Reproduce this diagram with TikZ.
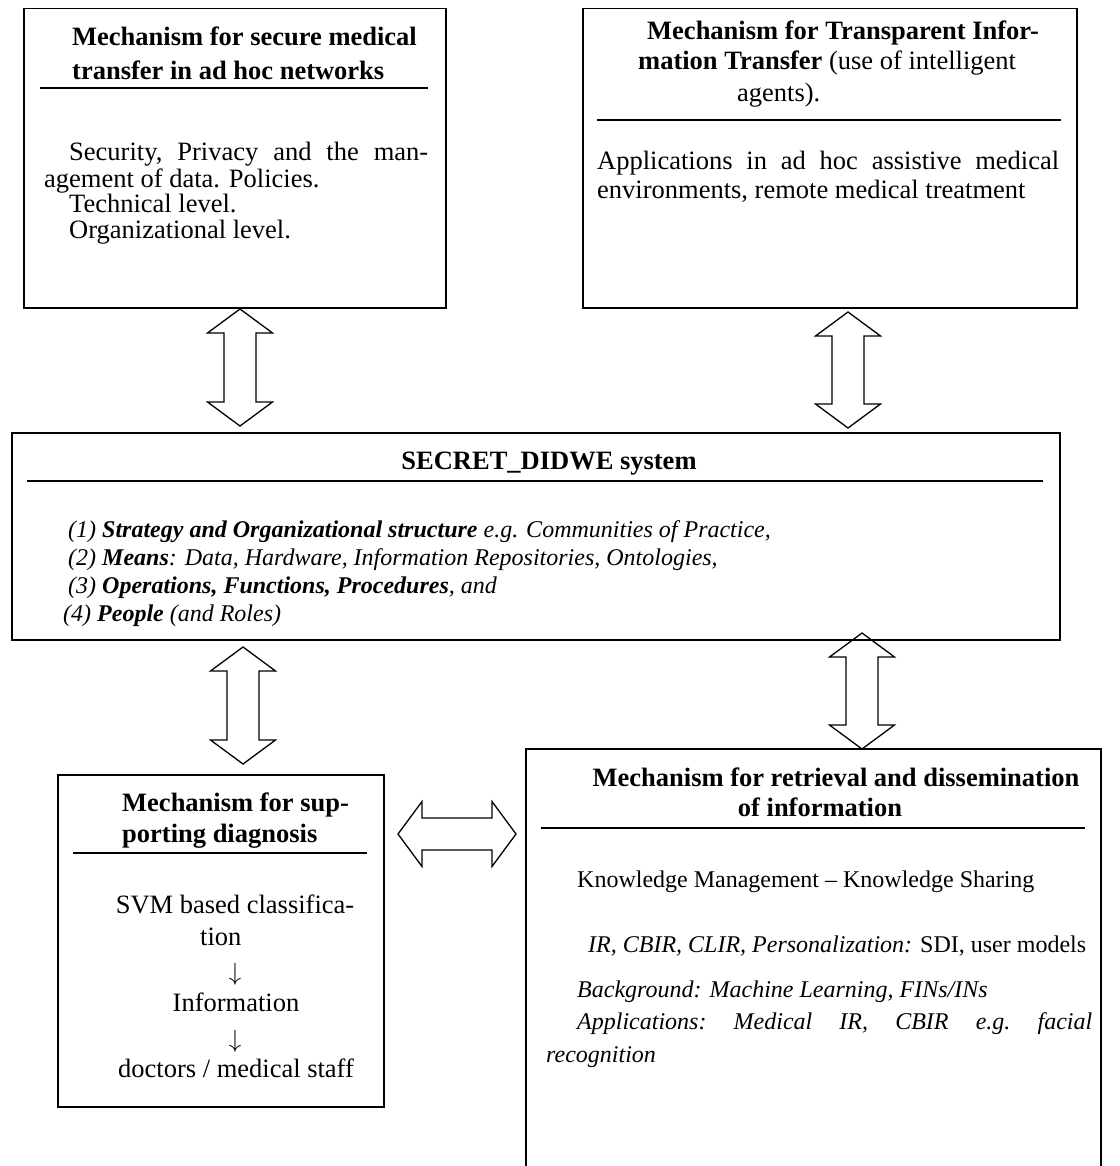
\documentclass[tikz,border=0pt]{standalone}
\usepackage{fontspec}
\setmainfont{Liberation Serif}
\usetikzlibrary{calc}
\newcommand{\vdbl}[2]{%
  \draw[dblarr] let \p1=(#1), \p2=(#2) in
   (\x1,\y1) -- (\x1+32.5pt,\y1-24pt) -- (\x1+16pt,\y1-24pt) -- (\x1+16pt,\y2+24pt)
   -- (\x1+32.5pt,\y2+24pt) -- (\x1,\y2) -- (\x1-32.5pt,\y2+24pt) -- (\x1-16pt,\y2+24pt)
   -- (\x1-16pt,\y1-24pt) -- (\x1-32.5pt,\y1-24pt) -- cycle;}
\newcommand{\hdbl}[2]{%
  \draw[dblarr] let \p1=(#1), \p2=(#2) in
   (\x1,\y1) -- (\x1+24pt,\y1+32.5pt) -- (\x1+24pt,\y1+16pt) -- (\x2-24pt,\y1+16pt)
   -- (\x2-24pt,\y1+32.5pt) -- (\x2,\y1) -- (\x2-24pt,\y1-32.5pt) -- (\x2-24pt,\y1-16pt)
   -- (\x1+24pt,\y1-16pt) -- (\x1+24pt,\y1-32.5pt) -- cycle;}
\begin{document}
\begin{tikzpicture}[x=1pt,y=-1pt,
  box/.style={draw, line width=1.5pt, rectangle, inner sep=0pt, anchor=north west},
  hrule/.style={line width=2pt},
  dblarr/.style={draw, line width=1.3pt, line join=miter},
  ttl/.style={font=\fontsize{26.5}{31}\selectfont\bfseries, inner sep=0pt, anchor=base west},
  tl/.style={font=\fontsize{26.5}{31}\selectfont, inner sep=0pt, anchor=base west},
  sl/.style={font=\fontsize{24}{28}\selectfont, inner sep=0pt, anchor=base west}]
\useasboundingbox (0,0) rectangle (1119,1166);
% boxes
\node[box, minimum width=422pt, minimum height=299pt] (b1) at (23,8) {};
\node[box, minimum width=494pt, minimum height=299pt] (b2) at (582,8) {};
\node[box, minimum width=1048pt, minimum height=207pt] (sec) at (11,432) {};
\node[box, minimum width=326pt, minimum height=332pt] (b3) at (57,774) {};
\node[box, minimum width=575pt, minimum height=440pt] (b4) at (525,748) {};
% rules
\draw[hrule] (40,88) -- (428,88);
\draw[hrule] (597,120) -- (1061,120);
\draw[hrule] (27,481) -- (1043,481);
\draw[hrule] (73,853) -- (367,853);
\draw[hrule] (541,828) -- (1085,828);
% box 1
\node[ttl] (b1t1) at (72,46) {Mechanism for secure medical};
\node[ttl] (b1t2) at (72,80) {transfer in ad hoc networks};
\node[tl] (b1l1) at (69,161) {\hbox to 359pt{Security,\hfill Privacy\hfill and\hfill the\hfill man-}};
\node[tl] (b1l2) at (44,188) {agement of data. Policies.};
\node[tl] (b1l3) at (69,213) {Technical level.};
\node[tl] (b1l4) at (69,239) {Organizational level.};
% box 2
\node[ttl] (b2t1) at (647,40) {Mechanism for Transparent Infor-};
\node[ttl] (b2t2) at (638,70) {mation Transfer \mdseries(use of intelligent};
\node[tl] (b2t3) at (737,102) {agents).};
\node[tl] (b2l1) at (597,170) {\hbox to 462pt{Applications\hfill in\hfill ad\hfill hoc\hfill assistive\hfill medical}};
\node[tl] (b2l2) at (597,199) {environments, remote medical treatment};
% system box
\node[ttl, anchor=base] (sect) at (549,469) {SECRET\_DIDWE system};
\node[sl] (s1) at (68,537) {\itshape (1) \textbf{Strategy and Organizational structure} e.g. Communities of Practice,};
\node[sl] (s2) at (68,565) {\itshape (2) \textbf{Means}: Data, Hardware, Information Repositories, Ontologies,};
\node[sl] (s3) at (68,593) {\itshape (3) \textbf{Operations, Functions, Procedures}, and};
\node[sl] (s4) at (63,621) {\itshape (4) \textbf{People} (and Roles)};
% box 3
\node[ttl] (b3t1) at (122,811) {Mechanism for sup-};
\node[ttl] (b3t2) at (122,842) {porting diagnosis};
\node[tl, anchor=base] (b3l1) at (235,913) {SVM based classifica-};
\node[tl] (b3l2) at (200,945) {tion};
\node[tl, anchor=center] (b3a1) at (235,974) {$\downarrow$};
\node[tl, anchor=base] (b3l3) at (236,1011) {Information};
\node[tl, anchor=center] (b3a2) at (235,1041) {$\downarrow$};
\node[tl, anchor=base] (b3l4) at (236,1077) {doctors / medical staff};
% box 4
\node[ttl, anchor=base] (b4t1) at (836,786) {Mechanism for retrieval and dissemination};
\node[ttl, anchor=base] (b4t2) at (820,816) {of information};
\node[sl] (b4l1) at (577,887) {Knowledge Management – Knowledge Sharing};
\node[sl] (b4l2) at (588,952) {\textit{IR, CBIR, CLIR, Personalization:} SDI, user models};
\node[sl] (b4l3) at (577,997) {\itshape Background: Machine Learning, FINs/INs};
\node[sl] (b4l4) at (577,1029) {\itshape\hbox to 515pt{Applications:\hfill Medical\hfill IR,\hfill CBIR\hfill e.g.\hfill facial}};
\node[sl] (b4l5) at (546,1062) {\itshape recognition};
% double arrows
\coordinate (a1t) at (240,309); \coordinate (a1b) at (240,426);
\coordinate (a2t) at (848,312); \coordinate (a2b) at (848,428);
\coordinate (a3t) at (243,647); \coordinate (a3b) at (243,764);
\coordinate (a4t) at (862,633); \coordinate (a4b) at (862,749);
\coordinate (hl) at (398,834); \coordinate (hr) at (516,834);
\vdbl{a1t}{a1b}
\vdbl{a2t}{a2b}
\vdbl{a3t}{a3b}
\vdbl{a4t}{a4b}
\hdbl{hl}{hr}
\end{tikzpicture}
\end{document}
